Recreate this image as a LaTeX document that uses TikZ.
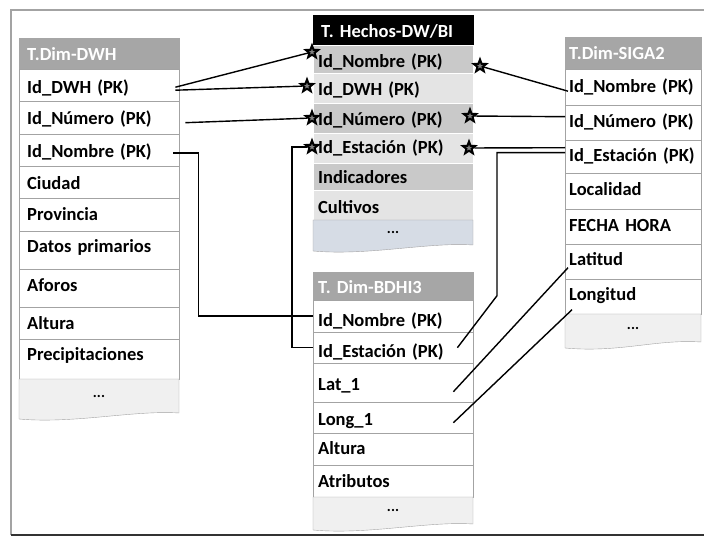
\documentclass[tikz,border=0pt]{standalone}
\usepackage{fontspec}
\setmainfont{Carlito}
\usetikzlibrary{shapes.geometric,calc}
\definecolor{cabgris}{HTML}{A6A6A6}
\definecolor{borde}{HTML}{A3A3A3}
\definecolor{oscuro}{HTML}{C9C9C9}
\definecolor{claro}{HTML}{E4E4E4}
\definecolor{masgris}{HTML}{F0F0F0}
\definecolor{masazul}{HTML}{D6DCE5}
\newcommand{\letra}{\fontsize{18.5}{22}\selectfont\bfseries\fontdimen2\font=2.6pt}
\tikzset{
  fila/.style={draw=borde, fill=white, anchor=north west, inner ysep=0pt, align=left},
  cabecera/.style={fila, fill=cabgris, draw=cabgris, text=white},
  estrella/.style={star, star points=5, star point ratio=2.4, minimum size=13pt, inner sep=0pt,
    draw=black, line width=2pt, fill=black!50},
  enlace/.style={line width=1.4pt, black},
}
% fila final con borde ondulado: nombre, izq, der, arriba, abajo, color
\newcommand{\masfila}[6]{%
  \draw[draw=borde, fill=#6] (#2,#4) -- (#3,#4) -- (#3,#5-6)
    .. controls (#3-45,#5-9) and (#2+55,#5+5) .. (#2,#5) -- cycle;
  \node[font=\fontsize{15}{15}\selectfont\bfseries] (#1) at ({(#2+#3)/2},{(#4+#5)/2-3}) {...};
}
\begin{document}
\begin{tikzpicture}[x=1pt, y=-1pt, font=\letra]
\useasboundingbox (0,0) rectangle (704,537);
\draw[borde, line width=1.5pt] (11,535) -- (11,10) -- (704,10);
\draw[black!80, line width=1.5pt] (11,535) -- (704,535);

% T.Dim-DWH
\node[cabecera, inner xsep=8pt, text width=144pt, text height=22pt, text depth=9pt] (dwh-h) at (19,38) {T.Dim-DWH};
\foreach \n/\t/\a/\b/\h in {dwh-id/Id\_DWH (PK)/69/101/24, dwh-num/Id\_Número (PK)/101/134/23,
    dwh-nom/Id\_Nombre (PK)/134/166/23, dwh-ciu/Ciudad/166/198/23, dwh-pro/Provincia/198/231/22,
    dwh-dat/Datos primarios/231/269/21, dwh-afo/Aforos/269/307/22, dwh-alt/Altura/307/339/22,
    dwh-pre/Precipitaciones/339/379/21}{
  \pgfmathsetmacro\dd{\b-\a-\h}
  \node[fila, inner xsep=8pt, text width=144pt, text height=\h pt, text depth=\dd pt] (\n) at (19,\a) {\mbox{\t}};
}
\masfila{dwh-mas}{19}{179}{379}{419}{masgris}

% T. Hechos-DW/BI
\node[cabecera, fill=black, draw=black, inner xsep=8pt, text width=144pt, text height=22pt, text depth=8pt] (hch-h) at (313,15) {T. Hechos-DW/BI};
\foreach \n/\t/\a/\b/\h/\c in {hch-nom/Id\_Nombre (PK)/45/73/22/oscuro, hch-dwh/Id\_DWH (PK)/73/103/22/claro,
    hch-num/Id\_Número (PK)/103/133/22/oscuro, hch-est/Id\_Estación (PK)/133/163/20/claro,
    hch-ind/Indicadores/163/190/20/oscuro, hch-cul/Cultivos/190/220/23/claro}{
  \pgfmathsetmacro\dd{\b-\a-\h}
  \node[fila, draw=white, fill=\c, inner xsep=5pt, text width=150pt, text height=\h pt, text depth=\dd pt] (\n) at (313,\a) {\mbox{\t}};
}
\masfila{hch-mas}{313}{473}{220}{251}{masazul}

% T. Dim-BDHI3
\node[cabecera, inner xsep=5pt, text width=150pt, text height=21pt, text depth=7pt] (bdh-h) at (313,272) {T. Dim-BDHI3};
\foreach \n/\t/\a/\b/\h in {bdh-nom/Id\_Nombre (PK)/300/332/26, bdh-est/Id\_Estación (PK)/332/363/25,
    bdh-lat/Lat\_1/363/402/27, bdh-lon/Long\_1/402/433/23, bdh-alt/Altura/433/465/21,
    bdh-atr/Atributos/465/497/22}{
  \pgfmathsetmacro\dd{\b-\a-\h}
  \node[fila, inner xsep=5pt, text width=150pt, text height=\h pt, text depth=\dd pt] (\n) at (313,\a) {\mbox{\t}};
}
\masfila{bdh-mas}{313}{473}{497}{530}{masgris}

% T.Dim-SIGA2
\node[cabecera, inner xsep=4pt, text width=128pt, text height=22pt, text depth=10pt] (sig-h) at (565,37) {T.Dim-SIGA2};
\foreach \n/\t/\a/\b/\h in {sig-nom/Id\_Nombre (PK)/69/105/23, sig-num/Id\_Número (PK)/105/140/22,
    sig-est/Id\_Estación (PK)/140/173/21, sig-loc/Localidad/173/209/22, sig-fec/FECHA HORA/209/244/22,
    sig-lat/Latitud/244/279/21, sig-lon/Longitud/279/314/21}{
  \pgfmathsetmacro\dd{\b-\a-\h}
  \node[fila, inner xsep=4pt, text width=128pt, text height=\h pt, text depth=\dd pt] (\n) at (565,\a) {\mbox{\t}};
}
\masfila{sig-mas}{565}{701}{314}{348}{masgris}

% estrellas
\node[estrella] (e1) at (312,52) {};
\node[estrella] (e2) at (307,86) {};
\node[estrella] (e3) at (312,118) {};
\node[estrella] (e4) at (312,147) {};
\node[estrella] (e5) at (480,66) {};
\node[estrella] (e6) at (470,116) {};
\node[estrella] (e7) at (469,148) {};

% enlaces
\draw[enlace] ($(dwh-id.east)+(-4,2)$) -- (e1);
\draw[enlace] ($(dwh-id.east)+(-4,5)$) -- (e2);
\draw[enlace] ($(dwh-num.east)+(6,5)$) -- (e3);
\draw[enlace] ($(dwh-nom.east)+(-6,3)$) -- ++(25,0) |- (bdh-nom.west);
\draw[enlace] (e4) -- ++(-20,0) |- (bdh-est.west);
\draw[enlace] ($(sig-nom.west)+(3,4)$) -- (e5);
\draw[enlace] ($(sig-num.west)+(0,-6)$) -- (e6);
\draw[enlace] ($(sig-est.west)+(0,-9)$) -- (e7);
\draw[enlace] ($(sig-est.west)+(0,-4)$) -- ++(-68,0) -- ++(0,143) -- ($(bdh-est.east)+(-16,0)$);
\draw[enlace] ($(sig-lat.west)+(3,6)$) -- ($(bdh-lat.east)+(-20,9)$);
\draw[enlace] ($(sig-lon.west)+(7,13)$) -- ($(bdh-lon.east)+(-20,5)$);
\end{tikzpicture}
\end{document}
